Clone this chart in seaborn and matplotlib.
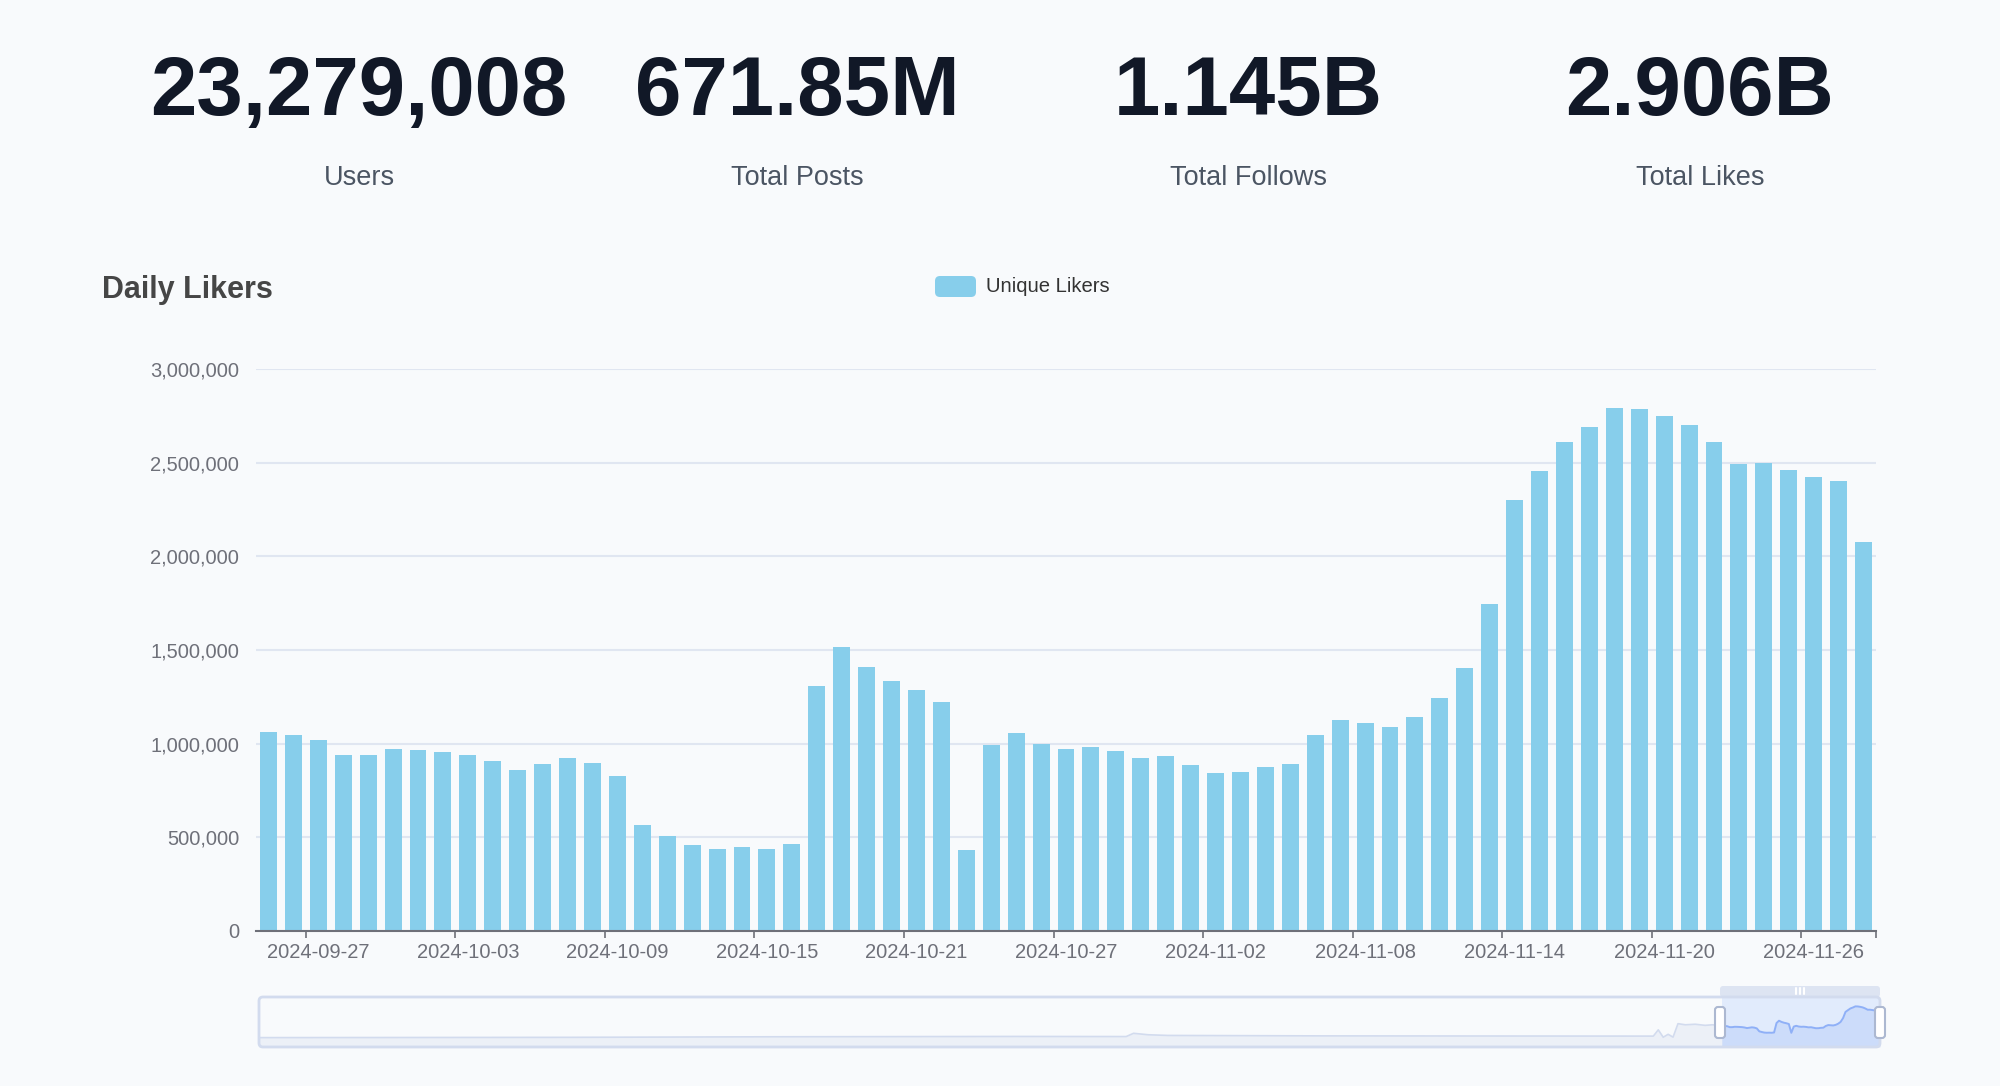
import matplotlib
matplotlib.use('Agg')
import matplotlib.pyplot as plt
from matplotlib.patches import FancyBboxPatch
from matplotlib.transforms import IdentityTransform
from matplotlib.ticker import FuncFormatter, FixedLocator
from matplotlib.lines import Line2D
import numpy as np
import pandas as pd
import seaborn as sns

# header numbers
stat_values = ['23,279,008', '671.85M', '1.145B', '2.906B']
stat_labels = ['Users', 'Total Posts', 'Total Follows', 'Total Likes']

# daily unique likers, one bar per day from 2024-09-25
start_day = '2024-09-25'
unique_likers = [
    1060000, 1045000, 1020000, 940000, 940000, 971000, 967000, 956000, 942000, 910000,
    857000, 889000, 925000, 897000, 828000, 567000, 508000, 457000, 440000, 447000,
    438000, 463000, 1306000, 1515000, 1409000, 1336000, 1289000, 1220000, 434000, 992000,
    1058000, 996000, 971000, 980000, 959000, 921000, 933000, 887000, 843000, 847000,
    878000, 891000, 1045000, 1125000, 1108000, 1091000, 1142000, 1245000, 1405000, 1744000,
    2301000, 2456000, 2610000, 2692000, 2794000, 2787000, 2751000, 2701000, 2608000, 2494000,
    2496000, 2463000, 2425000, 2404000, 2077000,
]

# earlier history, only visible in the zoom slider preview
history_dates = ['2023-02-09', '2023-04-01', '2023-06-15', '2023-09-05', '2023-12-13',
                 '2024-01-27', '2024-01-30', '2024-02-05', '2024-02-13', '2024-04-15',
                 '2024-06-15', '2024-08-28', '2024-08-30', '2024-09-01', '2024-09-03',
                 '2024-09-05', '2024-09-07', '2024-09-10', '2024-09-14', '2024-09-18',
                 '2024-09-21', '2024-09-24']
history_values = [5000, 15000, 30000, 80000, 110000,
                  100000, 390000, 260000, 200000, 160000,
                  150000, 140000, 700000, 40000, 300000,
                  50000, 1250000, 1150000, 1200000, 1100000,
                  1150000, 1080000]

days = pd.date_range(start_day, periods=len(unique_likers), freq='D')
day_labels = [d.strftime('%Y-%m-%d') for d in days]

W, H = 2000, 1086
BG = '#f8fafc'
BAR = '#87CEEB'
AXIS = '#6E7079'

sns.set_theme(style='white')
plt.rcParams['font.family'] = ['Liberation Sans', 'DejaVu Sans']

fig = plt.figure(figsize=(W / 100, H / 100), dpi=100)
fig.patch.set_facecolor(BG)


def fx(px):
    return px / W


def fy(py):
    return 1 - py / H


# header stats
num_x = [359, 797, 1248, 1700]
for x, v, lab in zip(num_x, stat_values, stat_labels):
    fig.text(fx(x), fy(115), v, ha='center', va='baseline', fontsize=60,
             fontweight='bold', color='#111827')
    fig.text(fx(x), fy(185), lab, ha='center', va='baseline', fontsize=19.5,
             color='#4b5563')

# title + legend
fig.text(fx(102), fy(298), 'Daily Likers', ha='left', va='baseline', fontsize=22,
         fontweight='bold', color='#464646')
fig.add_artist(FancyBboxPatch((935, H - 297), 41, 21, boxstyle='round,pad=0,rounding_size=5',
                              transform=IdentityTransform(), facecolor=BAR, edgecolor='none'))
fig.text(fx(986), fy(287), 'Unique Likers', ha='left', va='center', fontsize=14.6,
         color='#333333')

# main bar chart
ax = fig.add_axes([fx(256), fy(931), (1876 - 256) / W, (931 - 369) / H])
ax.set_facecolor(BG)
df = pd.DataFrame({'day': day_labels, 'likers': unique_likers})
sns.barplot(data=df, x='day', y='likers', color=BAR, saturation=1, width=0.68,
            linewidth=0, ax=ax, zorder=3)
ax.set_xlim(-0.5, len(day_labels) - 0.5)
ax.set_ylim(0, 3000000)
ax.set_yticks(np.arange(0, 3000001, 500000))
ax.yaxis.set_major_formatter(FuncFormatter(lambda v, p: f'{int(v):,}'))
ax.grid(axis='y', color='#E0E6F1', linewidth=1.5, zorder=0)
ax.grid(axis='x', visible=False)
for s in ['top', 'right', 'left']:
    ax.spines[s].set_visible(False)
ax.spines['bottom'].set_color(AXIS)
ax.spines['bottom'].set_linewidth(1.5)
ax.spines['bottom'].set_zorder(4)
ax.set_xlabel('')
ax.set_ylabel('')

label_idx = list(range(2, len(day_labels), 6))
tick_pos = [i - 0.5 for i in label_idx] + [len(day_labels) - 0.5]
ax.xaxis.set_major_locator(FixedLocator(tick_pos))
ax.set_xticklabels([''] * len(tick_pos))
ax.xaxis.set_minor_locator(FixedLocator(label_idx))
ax.set_xticklabels([day_labels[i] for i in label_idx], minor=True)
ax.tick_params(axis='x', which='major', length=5, width=1.2, color=AXIS, direction='out',
               bottom=True)
ax.tick_params(axis='x', which='minor', length=0, pad=9, labelsize=14.5, labelcolor=AXIS,
               bottom=True)
ax.tick_params(axis='y', length=0, pad=12, labelsize=14.5, labelcolor=AXIS)

# zoom slider with data preview
hist_days = pd.to_datetime(history_dates)
all_days = list(hist_days) + list(days)
all_vals = history_values + unique_likers
vmin, vmax = min(all_vals), max(all_vals)
rng = vmax - vmin
floor = vmin - 0.3 * rng

sx0, sx1, sy0, sy1 = 259, 1880, 997, 1047
ax2 = fig.add_axes([fx(sx0), fy(sy1), (sx1 - sx0) / W, (sy1 - sy0) / H])
ax2.set_facecolor('none')
ax2.set_xlim(all_days[0], days[-1])
ax2.set_ylim(floor, vmax + 0.3 * rng)
ax2.axis('off')

n_hist = len(history_values)
pre_x = all_days[:n_hist + 1]
pre_y = all_vals[:n_hist + 1]
ax2.fill_between(pre_x, pre_y, floor, color='#d2dbee', alpha=0.3, linewidth=0)
sns.lineplot(x=pre_x, y=pre_y, color='#d2dbee', linewidth=1.2, ax=ax2)

# selected window
ax2.axvspan(days[0], days[-1], color='#87afff', alpha=0.2, linewidth=0)
ax2.fill_between(days, unique_likers, floor, color='#8fb0f7', alpha=0.25, linewidth=0)
sns.lineplot(x=days, y=unique_likers, color='#8fb0f7', linewidth=1.4, ax=ax2)
ax2.set_xlabel('')
ax2.set_ylabel('')

# slider frame
fig.add_artist(FancyBboxPatch((sx0, H - sy1), sx1 - sx0, sy1 - sy0,
                              boxstyle='round,pad=0,rounding_size=4',
                              transform=IdentityTransform(), facecolor='none',
                              edgecolor='#d2dbee', linewidth=2))
wx0 = 1720
fig.add_artist(FancyBboxPatch((wx0, H - 997), sx1 - wx0, 11,
                              boxstyle='round,pad=0,rounding_size=3',
                              transform=IdentityTransform(), facecolor='#d2dbee',
                              alpha=0.7, edgecolor='none'))
mid = (wx0 + sx1) / 2
for dx in (-4, 0, 4):
    fig.add_artist(Line2D([mid + dx, mid + dx], [H - 994, H - 988],
                          transform=IdentityTransform(), color='white', linewidth=1.5))
for hx in (wx0, sx1):
    fig.add_artist(FancyBboxPatch((hx - 5, H - 1038), 10, 31,
                                  boxstyle='round,pad=0,rounding_size=3',
                                  transform=IdentityTransform(), facecolor='white',
                                  edgecolor='#acb8d1', linewidth=1.5, zorder=5))

fig.savefig('out.png', dpi=100, facecolor=BG)
